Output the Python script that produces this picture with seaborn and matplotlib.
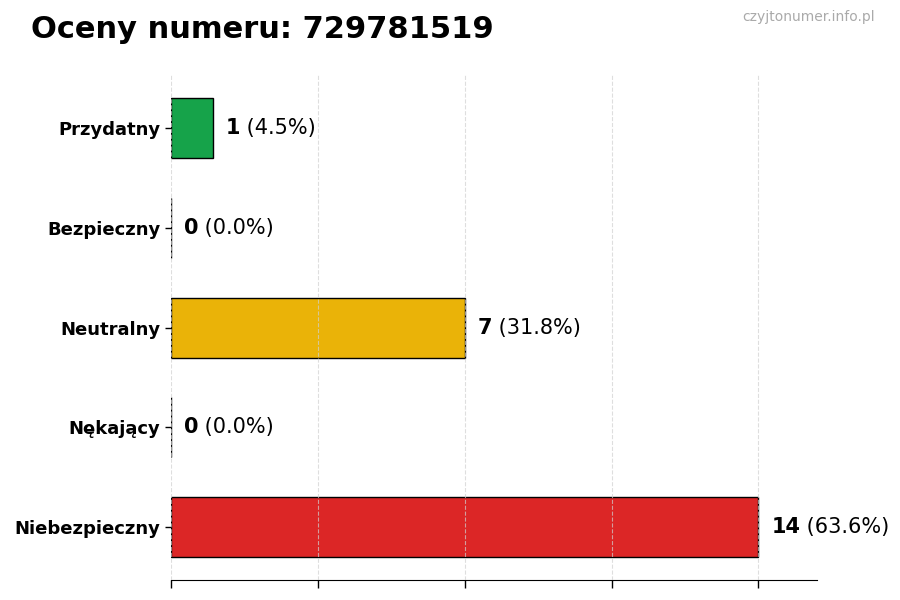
import matplotlib
matplotlib.use("Agg")
import matplotlib.pyplot as plt
import pandas as pd
import seaborn as sns

# data
categories = ["Przydatny", "Bezpieczny", "Neutralny", "Nękający", "Niebezpieczny"]
counts = [1, 0, 7, 0, 14]
colors = ["#16a34a", "#65a30d", "#eab308", "#f97316", "#dc2626"]
title = "Oceny numeru: 729781519"
watermark = "czyjtonumer.info.pl"

total = sum(counts)
df = pd.DataFrame({"kategoria": categories, "liczba": counts})

sns.set_style("white")
plt.rcParams["font.family"] = ["DejaVu Sans"]
plt.rcParams["text.color"] = "black"
plt.rcParams["ytick.color"] = "black"
plt.rcParams["xtick.color"] = "black"

fig = plt.figure(figsize=(9, 6), dpi=100)
ax = fig.add_axes([0.19, 0.033, 0.718, 0.842])

sns.barplot(data=df, x="liczba", y="kategoria", hue="kategoria",
            palette=colors, orient="h", width=0.6, edgecolor="black",
            linewidth=1, saturation=1, legend=False, ax=ax)

xmax = max(counts) * 1.1
ax.set_xlim(0, xmax)
ax.set_ylim(len(categories) - 1 + 0.53, -0.53)
ax.set_xticks([max(counts) * i / 4 for i in range(5)])
ax.set_xticklabels([])
ax.tick_params(axis="x", length=6, width=1, color="black", bottom=True)
ax.tick_params(axis="y", length=4, width=1, color="black", left=True,
               labelsize=13, labelcolor="black")
for lbl in ax.get_yticklabels():
    lbl.set_fontweight("bold")
ax.set_xlabel("")
ax.set_ylabel("")

ax.grid(axis="x", linestyle="--", color="#d0d0d0", linewidth=0.8, alpha=0.7)
ax.set_axisbelow(False)
for side in ["top", "right", "left"]:
    ax.spines[side].set_visible(False)
ax.spines["bottom"].set_color("black")

for i, c in enumerate(counts):
    x = c + xmax * 0.02
    t = ax.text(x, i, str(c), fontsize=15, fontweight="bold", va="center",
                ha="left", color="black")
    ax.annotate(f" ({c / total * 100:.1f}%)", xy=(1, 0.5), xycoords=t,
                fontsize=15, va="center", ha="left", color="black")

fig.text(0.034, 0.95, title, fontsize=22, fontweight="bold", ha="left",
         va="center", color="black")
fig.text(0.972, 0.971, watermark, fontsize=10, color="#aaaaaa", ha="right", va="center")

fig.savefig("out.png", dpi=100)
